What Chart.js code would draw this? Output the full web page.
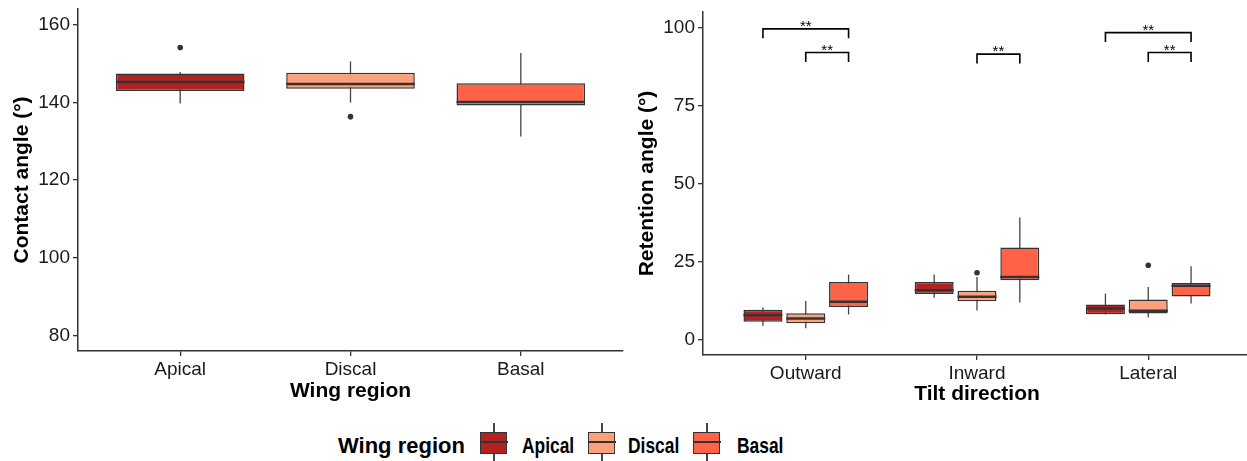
<!DOCTYPE html>
<html>
<head>
    <title>Contact and retention angles by wing region</title>
    <meta charset="UTF-8">
    <script src="https://cdn.jsdelivr.net/npm/chart.js"></script>
    <style>
        body { margin: 0; width: 1247px; height: 461px; overflow: hidden; background: #fff; position: relative;
               font-family: "Liberation Sans", Arial, sans-serif; }
        #contactChart { position: absolute; left: 0; top: 0; }
        #retentionChart { position: absolute; left: 630px; top: 0; }
        .lg-title { position: absolute; left: 338px; top: 433px; font-size: 22px; font-weight: bold; line-height: 26px; color: #000; }
        .lg-label { position: absolute; top: 433px; font-size: 22px; font-weight: bold; line-height: 26px; color: #000;
                    transform: scaleX(0.79); transform-origin: left center; }
        .lg-key { position: absolute; top: 423px; width: 28px; height: 38px; }
        .lg-key .wh { position: absolute; left: 13px; top: 0; width: 1.5px; height: 38px; background: #444; }
        .lg-key .bx { position: absolute; left: 0; top: 9px; width: 25px; height: 20px; border: 1.5px solid #333; }
        .lg-key .md { position: absolute; left: 0; top: 18px; width: 28px; height: 2px; background: #333; }
    </style>
</head>
<body>
    <canvas id="contactChart" width="630" height="410"></canvas>
    <canvas id="retentionChart" width="621" height="410"></canvas>

    <div class="lg-title">Wing region</div>
    <div class="lg-key" style="left:480px"><div class="wh"></div><div class="bx" style="background:#B22222"></div><div class="md"></div></div>
    <div class="lg-label" style="left:522px">Apical</div>
    <div class="lg-key" style="left:588px"><div class="wh"></div><div class="bx" style="background:#FFA07A"></div><div class="md"></div></div>
    <div class="lg-label" style="left:628px">Discal</div>
    <div class="lg-key" style="left:693px"><div class="wh"></div><div class="bx" style="background:#FF6347"></div><div class="md"></div></div>
    <div class="lg-label" style="left:737px">Basal</div>

    <script>
        const regions = ['Apical', 'Discal', 'Basal'];
        const tilts = ['Outward', 'Inward', 'Lateral'];
        const regionColors = ['#B22222', '#FFA07A', '#FF6347'];

        // each box: [lower whisker, Q1, median, Q3, upper whisker]
        const contactStats = [
            [139.7, 142.9, 145.2, 147.4, 147.8],
            [139.9, 143.5, 144.7, 147.6, 150.5],
            [131.2, 139.2, 140.1, 144.9, 152.7]
        ];
        const contactOutliers = [[154.1], [136.3], []];
        const contactTicks = [80, 100, 120, 140, 160];

        // retention angle, one box per tilt direction (Outward, Inward, Lateral)
        const retApical = [[4.3, 5.7, 7.8, 9.5, 10.2], [13.4, 14.6, 15.8, 18.4, 20.8], [8.0, 8.1, 9.9, 11.2, 14.7]];
        const retDiscal = [[3.6, 5.2, 6.7, 8.4, 12.3], [9.3, 12.2, 13.7, 15.6, 20.0], [7.0, 8.3, 9.2, 12.8, 16.8]];
        const retBasal = [[8.0, 10.4, 12.1, 18.4, 20.8], [11.8, 19.0, 20.0, 29.5, 39.1], [11.5, 13.8, 17.2, 18.1, 23.5]];
        const retApicalOut = [[], [], []];
        const retDiscalOut = [[], [21.4], [23.8]];
        const retBasalOut = [[], [], []];
        const retTicks = [0, 25, 50, 75, 100];

        // significance brackets (index into tilts / regions)
        const sigTilt = [0, 0, 1, 2, 2];
        const sigFrom = [0, 1, 1, 0, 1];
        const sigTo = [2, 2, 2, 2, 2];
        const sigY = [99.6, 92.0, 91.5, 98.4, 92.0];
        const sigText = '**';

        Chart.defaults.font.family = '"Liberation Sans", Arial, sans-serif';

        // whiskers behind boxes, medians + outliers + brackets on top
        const boxParts = {
            id: 'boxParts',
            beforeDatasetsDraw(chart) {
                const ctx = chart.ctx, y = chart.scales.y;
                ctx.save();
                ctx.strokeStyle = '#444';
                ctx.lineWidth = 1.3;
                chart.data.datasets.forEach((ds, i) => {
                    chart.getDatasetMeta(i).data.forEach((bar, j) => {
                        const s = ds.stats[j];
                        ctx.beginPath();
                        ctx.moveTo(bar.x, y.getPixelForValue(s[0]));
                        ctx.lineTo(bar.x, y.getPixelForValue(s[4]));
                        ctx.stroke();
                    });
                });
                ctx.restore();
            },
            afterDatasetsDraw(chart, args, opts) {
                const ctx = chart.ctx, y = chart.scales.y;
                ctx.save();
                chart.data.datasets.forEach((ds, i) => {
                    chart.getDatasetMeta(i).data.forEach((bar, j) => {
                        const s = ds.stats[j];
                        const my = y.getPixelForValue(s[2]);
                        ctx.strokeStyle = '#333';
                        ctx.lineWidth = 2.4;
                        ctx.beginPath();
                        ctx.moveTo(bar.x - bar.width / 2, my);
                        ctx.lineTo(bar.x + bar.width / 2, my);
                        ctx.stroke();
                        ctx.fillStyle = '#333';
                        ds.outliers[j].forEach(v => {
                            ctx.beginPath();
                            ctx.arc(bar.x, y.getPixelForValue(v), 2.8, 0, Math.PI * 2);
                            ctx.fill();
                        });
                    });
                });
                if (opts.brackets) {
                    ctx.strokeStyle = '#000';
                    ctx.fillStyle = '#000';
                    ctx.lineWidth = 1.6;
                    ctx.font = '15px "Liberation Sans", Arial, sans-serif';
                    ctx.textAlign = 'center';
                    ctx.textBaseline = 'alphabetic';
                    sigTilt.forEach((t, k) => {
                        const x1 = chart.getDatasetMeta(sigFrom[k]).data[t].x;
                        const x2 = chart.getDatasetMeta(sigTo[k]).data[t].x;
                        const y1 = y.getPixelForValue(sigY[k]);
                        const y2 = y.getPixelForValue(sigY[k] - 3);
                        ctx.beginPath();
                        ctx.moveTo(x1, y2);
                        ctx.lineTo(x1, y1);
                        ctx.lineTo(x2, y1);
                        ctx.lineTo(x2, y2);
                        ctx.stroke();
                        ctx.fillText(sigText, (x1 + x2) / 2, y1 + 2);
                    });
                }
                ctx.restore();
            }
        };

        function axisX(labels, title, height, titlePad) {
            return {
                type: 'linear',
                min: 0.4,
                max: labels.length + 0.6,
                offset: false,
                afterBuildTicks: s => { s.ticks = labels.map((l, i) => ({ value: i + 1 })); },
                afterFit: s => { s.height = height; s.paddingLeft = 0; s.paddingRight = 0; },
                ticks: { callback: (v, i) => labels[i], color: '#1a1a1a', font: { size: 19 }, padding: 2, maxRotation: 0 },
                grid: { drawOnChartArea: false, drawTicks: true, tickLength: 5, color: '#333', lineWidth: 1.3, offset: false },
                border: { display: true, color: '#333', width: 1.5 },
                title: { display: true, text: title, color: '#000', font: { size: 21, weight: 'bold' }, padding: { top: 0, bottom: titlePad } }
            };
        }

        function axisY(tickValues, min, max, title, width, titlePad) {
            return {
                min: min,
                max: max,
                afterBuildTicks: s => { s.ticks = tickValues.map(v => ({ value: v })); },
                afterFit: s => { s.width = width; s.paddingTop = 0; s.paddingBottom = 0; },
                ticks: { color: '#1a1a1a', font: { size: 19 }, padding: 3 },
                grid: { drawOnChartArea: false, drawTicks: true, tickLength: 5, color: '#333', lineWidth: 1.3 },
                border: { display: true, color: '#333', width: 1.5 },
                title: { display: true, text: title, color: '#000', font: { size: 21, weight: 'bold' }, padding: { top: titlePad, bottom: 0 } }
            };
        }

        new Chart(document.getElementById('contactChart'), {
            type: 'bar',
            data: {
                datasets: [{
                    data: contactStats.map((s, i) => ({ x: i + 1, y: [s[1], s[3]] })),
                    stats: contactStats,
                    outliers: contactOutliers,
                    backgroundColor: regionColors,
                    borderColor: '#333',
                    borderWidth: 1.5,
                    borderSkipped: false,
                    categoryPercentage: 0.755,
                    barPercentage: 1.0
                }]
            },
            options: {
                responsive: false,
                animation: false,
                devicePixelRatio: 1,
                layout: { padding: { left: 0, top: 9, right: 7, bottom: 0 } },
                plugins: { legend: { display: false }, tooltip: { enabled: false }, boxParts: { brackets: false } },
                scales: {
                    x: axisX(regions, 'Wing region', 59, 6),
                    y: axisY(contactTicks, 76, 164, 'Contact angle (°)', 78, 10)
                }
            },
            plugins: [boxParts]
        });

        const retStats = [retApical, retDiscal, retBasal];
        const retOut = [retApicalOut, retDiscalOut, retBasalOut];

        new Chart(document.getElementById('retentionChart'), {
            type: 'bar',
            data: {
                datasets: regions.map((r, k) => ({
                    label: r,
                    data: retStats[k].map((s, i) => ({ x: i + 1, y: [s[1], s[3]] })),
                    stats: retStats[k],
                    outliers: retOut[k],
                    backgroundColor: regionColors[k],
                    borderColor: '#333',
                    borderWidth: 1.5,
                    borderSkipped: false,
                    categoryPercentage: 0.75,
                    barPercentage: 0.91
                }))
            },
            options: {
                responsive: false,
                animation: false,
                devicePixelRatio: 1,
                layout: { padding: { left: 0, top: 12, right: 0, bottom: 0 } },
                plugins: { legend: { display: false }, tooltip: { enabled: false }, boxParts: { brackets: true } },
                scales: {
                    x: axisX(tilts, 'Tilt direction', 55, 3),
                    y: axisY(retTicks, -5, 105, 'Retention angle (°)', 73, 5)
                }
            },
            plugins: [boxParts]
        });
    </script>
</body>
</html>
